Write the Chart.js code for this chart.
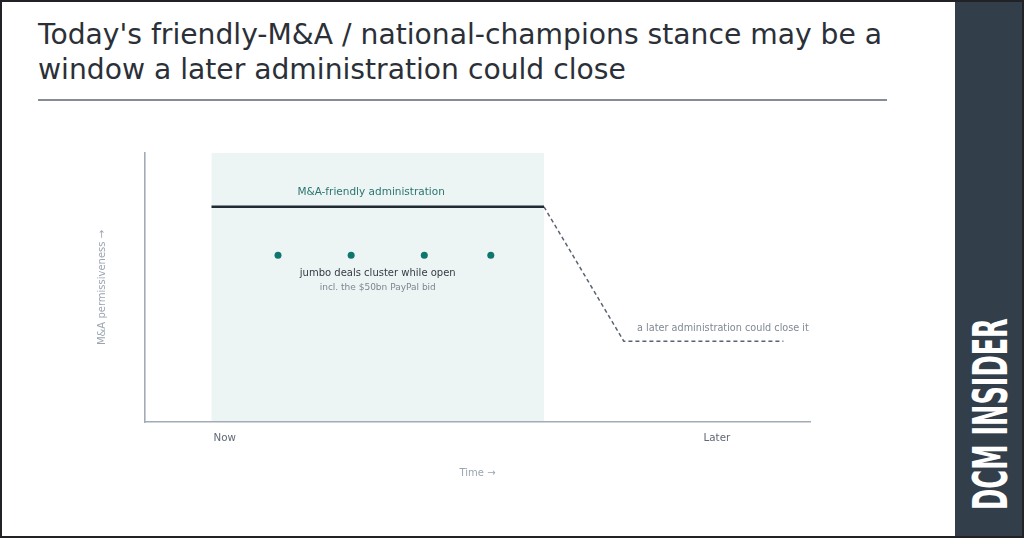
<!DOCTYPE html>
<html>
<head>
<meta charset="utf-8">
<script src="https://cdn.jsdelivr.net/npm/chart.js@4.4.1/dist/chart.umd.min.js"></script>
<style>
  body { margin: 0; background: #fff; }
  #page { position: absolute; left: 0; top: 0; width: 1024px; height: 538px; background: #fff; overflow: hidden; }
  #frame { position: absolute; left: 0; top: 0; width: 1024px; height: 538px; box-sizing: border-box; border: 2px solid #202226; z-index: 5; pointer-events: none; }
  #title { position: absolute; left: 38px; top: 17px; width: 880px; font-family: "DejaVu Sans", sans-serif; font-size: 28.2px; line-height: 35px; color: #2b3038; }
  #rule { position: absolute; left: 38px; top: 99px; width: 849px; height: 2px; background: #868c94; }
  #side { position: absolute; left: 955px; top: 0; width: 69px; height: 538px; background: #333e4b; }
  #brand { position: absolute; left: 839.5px; top: 396px; width: 300px; height: 50px; line-height: 50px; text-align: center; white-space: nowrap;
           font-family: "Liberation Sans Narrow", "DejaVu Sans Condensed", sans-serif; font-weight: bold; font-size: 48px; color: #fff; }
  #brand span { display: inline-block; }
  #chart { position: absolute; left: 0; top: 0; }
</style>
</head>
<body>
<div id="page">
  <div id="title">Today's friendly-M&amp;A / national-champions stance may be a window a later administration could close</div>
  <div id="rule"></div>
  <div id="side"></div>
  <div id="brand"><span id="brandText">DCM INSIDER</span></div>
  <canvas id="chart" width="950" height="538"></canvas>
  <div id="frame"></div>
</div>
<script>
// time runs 0..100, permissiveness 0..100
var timeTicks = [12, 86];
var timeLabels = ['Now', 'Later'];

// shaded window of the friendly administration
var windowStart = 10;
var windowEnd = 60;

// solid line: open window
var openX = [10, 60];
var openY = [80, 80];

// dashed line: a later administration closes it
var closeX = [60, 72, 96];
var closeY = [80, 30, 30];

// jumbo deals
var dealX = [20, 31, 42, 52];
var dealY = [62, 62, 62, 62];

// notes
var noteText = ['M&A-friendly administration', 'jumbo deals cluster while open', 'incl. the $50bn PayPal bid', 'a later administration could close it'];
var noteX = [34, 35, 35, 74];
var noteY = [85.3, 55.2, 49.8, 34.8];
var noteAlign = ['center', 'center', 'center', 'left'];
var noteSize = [10.5, 10, 9, 9.7];
var noteColor = ['#2a7570', '#343b44', '#7d8590', '#7f8893'];

// squeeze the side brand into its column
var brandSpan = document.getElementById('brandText');
var squeeze = 192 / brandSpan.offsetWidth;
document.getElementById('brand').style.transform = 'rotate(-90deg) scaleX(' + squeeze + ')';

function toPoints(xs, ys) {
	var pts = [];
	for (var i = 0; i < xs.length; i++) {
		pts.push({ x: xs[i], y: ys[i] });
	}
	return pts;
}

var shadePlugin = {
	id: 'shade',
	beforeDraw: function (chart) {
		var ctx = chart.ctx;
		var xs = chart.scales.x;
		var area = chart.chartArea;
		var x0 = xs.getPixelForValue(windowStart);
		var x1 = xs.getPixelForValue(windowEnd);
		ctx.save();
		ctx.fillStyle = '#edf5f4';
		ctx.fillRect(x0, area.top, x1 - x0, area.bottom - area.top);
		ctx.restore();
	}
};

var notesPlugin = {
	id: 'notes',
	afterDatasetsDraw: function (chart) {
		var ctx = chart.ctx;
		ctx.save();
		ctx.textBaseline = 'middle';
		for (var i = 0; i < noteText.length; i++) {
			ctx.font = noteSize[i] + 'px "DejaVu Sans", sans-serif';
			ctx.fillStyle = noteColor[i];
			ctx.textAlign = noteAlign[i];
			ctx.fillText(noteText[i], chart.scales.x.getPixelForValue(noteX[i]), chart.scales.y.getPixelForValue(noteY[i]));
		}
		ctx.restore();
	}
};

var ctx = document.getElementById('chart').getContext('2d');

new Chart(ctx, {
	type: 'line',
	data: {
		datasets: [
			{
				data: toPoints(openX, openY),
				borderColor: '#1f2a33',
				borderWidth: 2.6,
				pointRadius: 0
			},
			{
				data: toPoints(closeX, closeY),
				borderColor: '#5a6370',
				borderWidth: 1.5,
				borderDash: [4, 3],
				pointRadius: 0
			},
			{
				data: toPoints(dealX, dealY),
				showLine: false,
				pointRadius: 3.5,
				pointBorderWidth: 0,
				pointBackgroundColor: '#0f766e',
				borderColor: '#0f766e'
			}
		]
	},
	plugins: [shadePlugin, notesPlugin],
	options: {
		responsive: false,
		animation: false,
		events: [],
		layout: { padding: { top: 153, left: 96, right: 140, bottom: 59 } },
		plugins: { legend: { display: false }, tooltip: { enabled: false } },
		scales: {
			x: {
				type: 'linear',
				min: 0,
				max: 100,
				grid: { display: false, drawTicks: false },
				border: { color: '#a3abb5', width: 1.6 },
				afterBuildTicks: function (scale) {
					scale.ticks = timeTicks.map(function (v) { return { value: v }; });
				},
				afterFit: function (scale) { scale.height = 57; },
				ticks: {
					padding: 10,
					maxRotation: 0,
					autoSkip: false,
					color: '#5f6875',
					font: { family: 'DejaVu Sans', size: 10.3 },
					callback: function (v) { return timeLabels[timeTicks.indexOf(v)]; }
				},
				title: {
					display: true,
					text: 'Time \u2192',
					color: '#9aa5b1',
					padding: 0,
					font: { family: 'DejaVu Sans', size: 10 }
				}
			},
			y: {
				min: 0,
				max: 100,
				grid: { display: false, drawTicks: false },
				border: { color: '#a3abb5', width: 1.6 },
				ticks: { display: false },
				afterFit: function (scale) { scale.width = 49; },
				title: {
					display: true,
					text: 'M&A permissiveness \u2192',
					color: '#9aa5b1',
					padding: 0,
					font: { family: 'DejaVu Sans', size: 10 }
				}
			}
		}
	}
});
</script>
</body>
</html>
